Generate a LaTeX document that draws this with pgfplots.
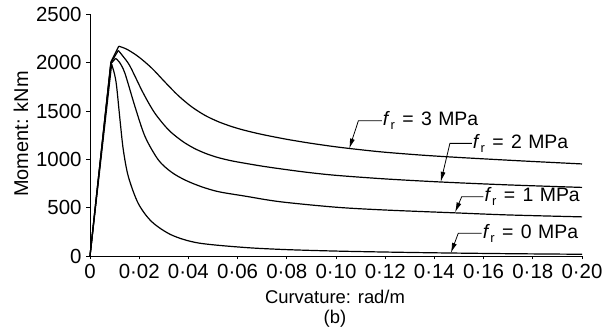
\documentclass[border=0pt]{standalone}
\usepackage{fontspec}
\setmainfont{Liberation Sans}
\usepackage{pgfplots}
\pgfplotsset{compat=1.18}
\usetikzlibrary{arrows.meta}
\newcommand{\fr}[1]{\textit{f}\kern0.03em\raisebox{-0.4ex}{\fontsize{13}{13}\selectfont r}\hspace{0.38em}=\hspace{0.38em}#1\hspace{0.33em}MPa}
\begin{document}
\begin{tikzpicture}[font=\fontsize{18.5}{21}\selectfont]
\useasboundingbox (-90bp,-77bp) rectangle (516bp,256bp);
\begin{axis}[
  at={(0,0)}, anchor=south west,
  scale only axis, width=492bp, height=241.5bp,
  xmin=0, xmax=0.2, ymin=0, ymax=2500,
  axis lines=left, axis line style={-, line width=0.8bp},
  tick align=outside, major tick length=3.5bp,
  tick style={line width=0.8bp, black},
  xtick={0,0.02,0.04,0.06,0.08,0.1,0.12,0.14,0.16,0.18,0.2},
  xticklabels={0,0·02,0·04,0·06,0·08,0·10,0·12,0·14,0·16,0·18,0·20},
  ytick={0,500,1000,1500,2000,2500},
  yticklabels={0,500,1000,1500,2000,2500},
  ticklabel style={font=\fontsize{20.5}{23}\selectfont},
  xticklabel style={yshift=-1.5bp},
  yticklabel style={xshift=-1.5bp},
  clip=false,
]
% rises
\addplot[black, line width=1.2bp] coordinates {(0,0) (0.0088,1985)};
\addplot[black, line width=1.2bp] coordinates {(0,0) (0.0085,1990) (0.0104,2046)};
\addplot[black, line width=1.2bp] coordinates {(0,0) (0.0085,2000) (0.0115,2128)};
\addplot[black, line width=1.2bp] coordinates {(0,0) (0.0085,2010) (0.0117,2172)};
% fr = 0
\addplot[black, line width=1.2bp, smooth, tension=0.5] coordinates {
(0.0088,1985) (0.0100,1880) (0.01084,1752) (0.0122,1408) (0.01355,1097) (0.0156,821) (0.0196,545)
(0.0251,355) (0.0332,217) (0.0440,135) (0.063,88) (0.08,66) (0.10,51) (0.12,41)
(0.14,33) (0.17,24) (0.20,18)};
% fr = 1
\addplot[black, line width=1.2bp, smooth, tension=0.5] coordinates {
(0.0104,2046) (0.0120,2005) (0.0142,1891) (0.0183,1545) (0.0224,1235) (0.0278,994)
(0.0330,870) (0.0386,787) (0.0450,720) (0.0522,666) (0.063,620) (0.0772,562) (0.10,505) (0.12,476)
(0.148,447) (0.17,425) (0.20,405)};
% fr = 2
\addplot[black, line width=1.2bp, smooth, tension=0.5] coordinates {
(0.0115,2128) (0.0156,1994) (0.0183,1860) (0.0210,1718) (0.0237,1590) (0.0264,1477)
(0.0300,1360) (0.0332,1275) (0.0380,1180) (0.0427,1110) (0.0475,1057) (0.0522,1018)
(0.0576,985) (0.063,960) (0.07,930) (0.0776,902) (0.088,867) (0.10,835) (0.12,798)
(0.1427,766) (0.17,736) (0.20,710)};
% fr = 3
\addplot[black, line width=1.2bp, smooth, tension=0.5] coordinates {
(0.0117,2172) (0.0150,2140) (0.0197,2063) (0.0251,1945) (0.0305,1800) (0.0359,1660)
(0.0413,1545) (0.0468,1455) (0.0522,1390) (0.0576,1340) (0.063,1300) (0.07,1258)
(0.08,1208) (0.09,1166) (0.10,1130) (0.11,1100) (0.12,1074) (0.135,1044) (0.15,1020)
(0.175,985) (0.20,953)};
% annotations
\draw[line width=0.8bp, -{Latex[length=10bp,width=5bp]}] (axis cs:0.1186,1400) -- (axis cs:0.1091,1400) -- (axis cs:0.1054,1112);
\node[anchor=west, inner sep=1bp, font=\fontsize{19.5}{22}\selectfont] at (axis cs:0.1186,1400) {\fr{3}};
\draw[line width=0.8bp, -{Latex[length=10bp,width=5bp]}] (axis cs:0.1552,1166) -- (axis cs:0.1463,1166) -- (axis cs:0.1426,768);
\node[anchor=west, inner sep=1bp, font=\fontsize{19.5}{22}\selectfont] at (axis cs:0.1552,1166) {\fr{2}};
\draw[line width=0.8bp, -{Latex[length=10bp,width=5bp]}] (axis cs:0.1599,614) -- (axis cs:0.1511,614) -- (axis cs:0.1484,452);
\node[anchor=west, inner sep=1bp, font=\fontsize{19.5}{22}\selectfont] at (axis cs:0.1599,614) {\fr{1}};
\draw[line width=0.8bp, -{Latex[length=10bp,width=5bp]}] (axis cs:0.1592,235) -- (axis cs:0.1497,235) -- (axis cs:0.1467,32);
\node[anchor=west, inner sep=1bp, font=\fontsize{19.5}{22}\selectfont] at (axis cs:0.1592,235) {\fr{0}};
\end{axis}
\node at (245bp,-41bp) {Curvature: rad/m};
\node at (245bp,-63bp) {(b)};
\node[rotate=90, font=\fontsize{20}{22}\selectfont] at (-69bp,122bp) {Moment: kNm};
\end{tikzpicture}
\end{document}
